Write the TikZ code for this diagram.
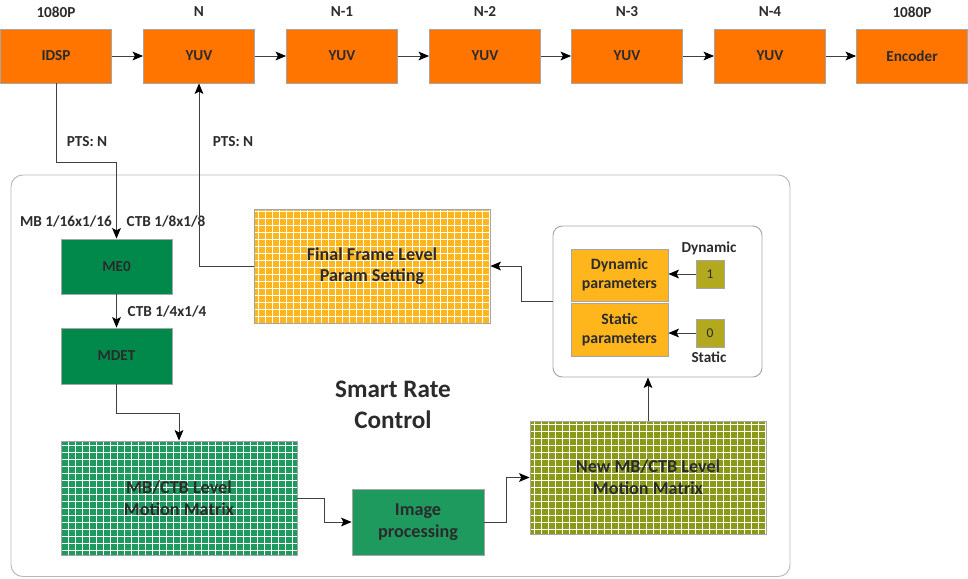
\documentclass[tikz,border=0pt]{standalone}
\usepackage{fontspec}
\setmainfont{Carlito}
\usepackage{xcolor}
\usepackage{tikz}
\usetikzlibrary{positioning,arrows.meta,calc}
\definecolor{mOrange}{HTML}{FF7500}
\definecolor{mGreen}{HTML}{00894A}
\definecolor{mGreenLight}{HTML}{1E9A5E}
\definecolor{mGold}{HTML}{FFB51C}
\definecolor{mOlive}{HTML}{8A9A18}
\definecolor{mOliveLight}{HTML}{B2A91E}
\definecolor{mInk}{HTML}{2B2B2B}
\definecolor{mLine}{HTML}{404040}
\definecolor{mEdge}{HTML}{A6A6A6}
\tikzset{
 box/.style={draw=mEdge, line width=0.7pt, font=\fontsize{13}{16}\selectfont\bfseries, text=mInk, align=center, inner sep=0pt},
 bigtext/.style={font=\fontsize{15.5}{18.5}\selectfont\bfseries},
 topbox/.style={box, fill=mOrange, minimum width=3.33cm, minimum height=1.62cm},
 gridded/.style={box, bigtext, fill=#1, path picture={\draw[white, line width=0.6pt] (path picture bounding box.south west) grid[step=0.21cm] (path picture bounding box.north east);}},
 tag/.style={font=\fontsize{13}{16}\selectfont\bfseries, text=mInk, inner sep=0pt},
 conn/.style={draw=mLine, line width=0.8pt},
 arr/.style={conn, -{Stealth[length=9pt, width=7.5pt, inset=2pt, color=black, fill=black]}},
}
\newcommand{\pnode}[4]{%
 \node[topbox] (#2) at (#1,56) {#3};%
 \node[tag] (#2l) at (#1,12) {#4};}

\begin{document}
\begin{tikzpicture}[x=0.03cm, y=-0.03cm]
\useasboundingbox (0,0) rectangle (968,578);
% pipeline
\pnode{56}{idsp}{IDSP}{1080P}
\pnode{199}{yuv0}{YUV}{N}
\pnode{342}{yuv1}{YUV}{N-1}
\pnode{485}{yuv2}{YUV}{N-2}
\pnode{627}{yuv3}{YUV}{N-3}
\pnode{770}{yuv4}{YUV}{N-4}
\pnode{912}{enc}{Encoder}{1080P}
\draw[arr] (idsp.east) -- (yuv0.west);
\draw[arr] (yuv0.east) -- (yuv1.west);
\draw[arr] (yuv1.east) -- (yuv2.west);
\draw[arr] (yuv2.east) -- (yuv3.west);
\draw[arr] (yuv3.east) -- (yuv4.west);
\draw[arr] (yuv4.east) -- (enc.west);
% smart rate control
\draw[draw=mEdge!80, line width=0.8pt, rounded corners=10pt] (11,175) rectangle (790,576.5);
\node[font=\fontsize{21.5}{26}\selectfont\bfseries, text=mInk, align=center] (src) at (393,405) {Smart Rate\\Control};
\node[box, fill=mGreen, minimum width=3.33cm, minimum height=1.65cm] (me0) at (116.5,266.5) {ME0};
\node[box, fill=mGreen, minimum width=3.33cm, minimum height=1.68cm] (mdet) at (116.5,356) {MDET};
\node[gridded=mGreenLight, minimum width=7.08cm, minimum height=3.42cm] (mbmat) at (179,498) {MB/CTB Level\\Motion Matrix};
\node[box, bigtext, fill=mGreenLight, minimum width=3.96cm, minimum height=1.98cm] (improc) at (418,522) {Image\\processing};
\node[gridded=mOlive, minimum width=7.08cm, minimum height=3.39cm] (newmat) at (648,477.5) {New MB/CTB Level\\Motion Matrix};
\node[gridded=mGold, minimum width=7.08cm, minimum height=3.42cm] (final) at (372,266) {Final Frame Level\\Param Setting};
\node[draw=mEdge, line width=0.8pt, rounded corners=8pt, minimum width=6.27cm, minimum height=4.53cm] (ppanel) at (657.5,301.5) {};
\node[box, font=\fontsize{13.5}{16}\selectfont\bfseries, fill=mGold, minimum width=2.91cm, minimum height=1.56cm] (dyn) at (619.5,275) {Dynamic\\parameters};
\node[box, font=\fontsize{13.5}{16}\selectfont\bfseries, fill=mGold, minimum width=2.91cm, minimum height=1.59cm] (stat) at (619.5,329.5) {Static\\parameters};
\node[box, fill=mOliveLight, font=\fontsize{11.5}{13}\selectfont, minimum size=0.84cm] (one) at (710,274) {1};
\node[box, fill=mOliveLight, font=\fontsize{11.5}{13}\selectfont, minimum size=0.84cm] (zero) at (710,333) {0};
\node[tag] (dynl) at (709,248) {Dynamic};
\node[tag] (statl) at (709,357) {Static};
% labels
\node[tag] (pts1) at (87,142) {PTS: N};
\node[tag] (pts2) at (233,142) {PTS: N};
\node[tag] (mbl) at (66,221) {MB 1/16x1/16};
\node[tag] (ctbl) at (166,221) {CTB 1/8x1/8};
\node[tag] (ctb4) at (167,311) {CTB 1/4x1/4};
% connectors
\draw[arr] (idsp.south) -- ++(0,79) -| (me0.north);
\draw[arr] (final.west) -| (yuv0.south);
\draw[arr] (me0.south) -- (mdet.north);
\draw[arr] (mdet.south) -- ++(0,29) -| (mbmat.north);
\draw[arr] (mbmat.east) -- ++(27,0) |- (improc.west);
\draw[arr] (improc.east) -- ++(22,0) |- (newmat.west);
\draw[arr] (newmat.north) -- (newmat.north |- ppanel.south);
\draw[arr] (ppanel.west) -- ++(-31,0) |- (final.east);
\draw[arr] (one.west) -- (one -| dyn.east);
\draw[arr] (zero.west) -- (zero -| stat.east);
\end{tikzpicture}
\end{document}
